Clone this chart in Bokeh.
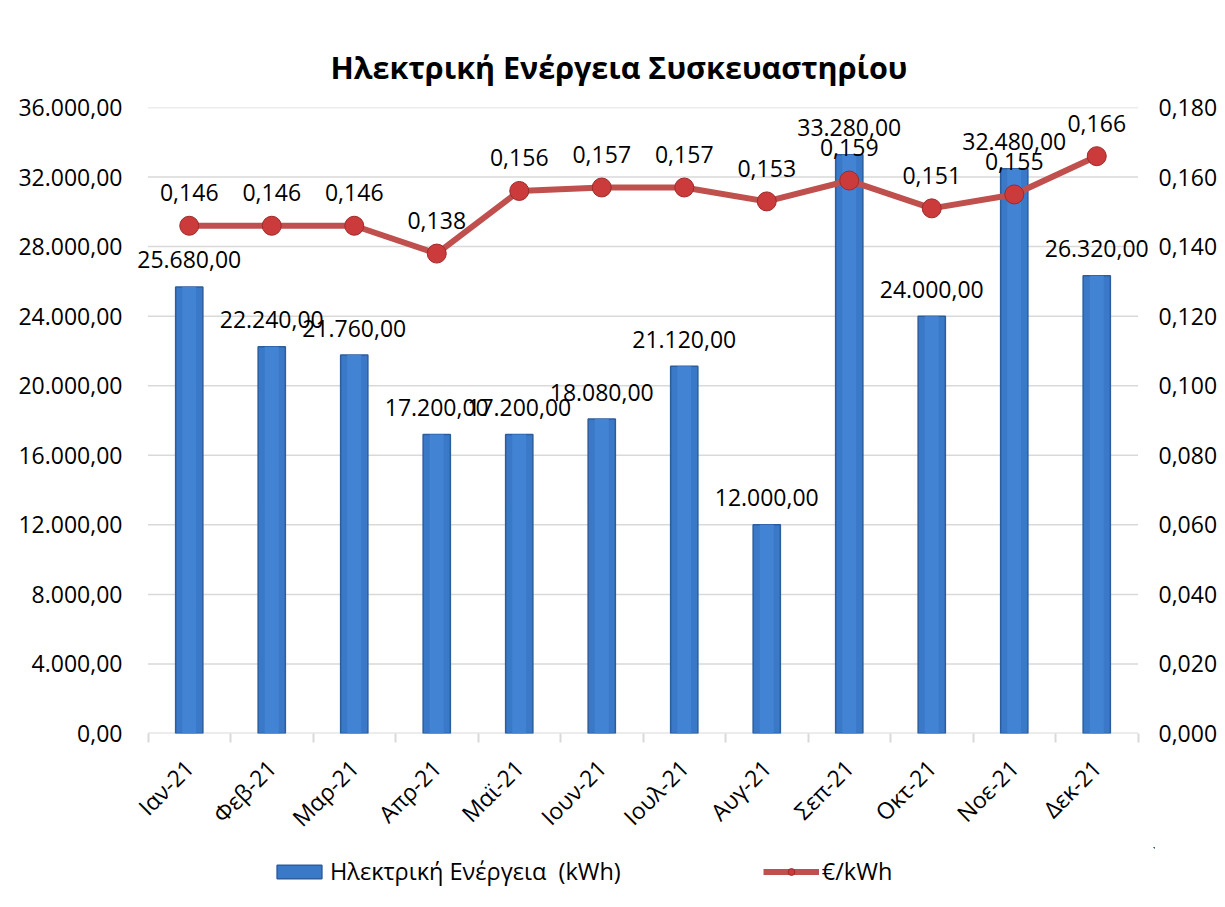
import numpy as np
from bokeh.plotting import figure
from bokeh.layouts import column
from bokeh.models import (Range1d, LinearAxis, FixedTicker, ColumnDataSource,
                          Legend, LegendItem)
from bokeh.core.properties import value
from bokeh.embed import file_html
from bokeh.resources import INLINE

# ---- data ----
months = ["Ιαν-21", "Φεβ-21", "Μαρ-21", "Απρ-21", "Μαϊ-21", "Ιουν-21",
          "Ιουλ-21", "Αυγ-21", "Σεπ-21", "Οκτ-21", "Νοε-21", "Δεκ-21"]
energy_kwh = [25680, 22240, 21760, 17200, 17200, 18080,
              21120, 12000, 33280, 24000, 32480, 26320]
price_eur_kwh = [0.146, 0.146, 0.146, 0.138, 0.156, 0.157,
                 0.157, 0.153, 0.159, 0.151, 0.155, 0.166]
energy_ticks = [0, 4000, 8000, 12000, 16000, 20000, 24000, 28000, 32000, 36000]
energy_tick_labels = ["0,00", "4.000,00", "8.000,00", "12.000,00", "16.000,00",
                      "20.000,00", "24.000,00", "28.000,00", "32.000,00", "36.000,00"]
price_ticks = [0.0, 0.02, 0.04, 0.06, 0.08, 0.10, 0.12, 0.14, 0.16, 0.18]
price_tick_labels = ["0,000", "0,020", "0,040", "0,060", "0,080",
                     "0,100", "0,120", "0,140", "0,160", "0,180"]
title_text = "Ηλεκτρική Ενέργεια Συσκευαστηρίου"
bar_legend = "Ηλεκτρική Ενέργεια  (kWh)"
line_legend = "€/kWh"


def fmt_energy(v):
    s = f"{v:,.2f}"  # 25,680.00
    return s.replace(",", "X").replace(".", ",").replace("X", ".")


def fmt_price(v):
    return f"{v:.3f}".replace(".", ",")


FONT = "Open Sans"
FS = "23px"
GRID = "#d9d9d9"
BAR_FILL, BAR_LINE, BAR_INNER = "#3a78c8", "#2c5d9c", "#4383d4"
LINE_C, MK_FILL, MK_LINE = "#c0504d", "#cc3b3b", "#9e2a2a"

n = len(months)
xs = [i + 0.5 for i in range(n)]
src = ColumnDataSource(dict(
    x=xs, energy=energy_kwh, price=price_eur_kwh,
    elab=[fmt_energy(v) for v in energy_kwh],
    plab=[fmt_price(v) for v in price_eur_kwh],
))
grid_src = ColumnDataSource(dict(y=energy_ticks[1:],
                                 x0=[0] * (len(energy_ticks) - 1),
                                 x1=[n] * (len(energy_ticks) - 1)))

pad = 0.2
p = figure(frame_width=1023, frame_height=626, output_backend="svg",
           toolbar_location=None,
           x_range=Range1d(-pad, n + pad), y_range=Range1d(0, 36000),
           min_border_left=131, min_border_right=70, min_border_top=107,
           min_border_bottom=112)
p.extra_y_ranges = {"price": Range1d(0, 0.18)}

p.title.text = title_text
p.title.text_font = FONT
p.title.text_font_style = "bold"
p.title.text_font_size = "30.5px"
p.title.text_color = "#000000"
p.title.align = "left"
p.title.offset = 199
p.title.standoff = 40

p.outline_line_color = None
p.background_fill_color = "white"
p.border_fill_color = "white"

# grid (drawn only over the category span)
p.xgrid.grid_line_color = None
p.ygrid.grid_line_color = None
p.segment(x0="x0", x1="x1", y0="y", y1="y", source=grid_src,
          line_color=GRID, line_width=1.5)

# x axis
xax = p.xaxis[0]
xax.ticker = FixedTicker(ticks=xs, minor_ticks=list(range(n + 1)))
xax.major_label_overrides = {x: m for x, m in zip(xs, months)}
xax.major_tick_line_color = None
xax.major_tick_out = 0
xax.major_tick_in = 0
xax.minor_tick_line_color = GRID
xax.minor_tick_line_width = 2
xax.minor_tick_out = 9
xax.minor_tick_in = 0
xax.axis_line_color = None
xax.major_label_orientation = np.pi / 4
xax.major_label_text_font = FONT
xax.major_label_text_font_size = FS
xax.major_label_text_color = "#000000"
xax.major_label_standoff = 21
p.segment(x0=[0], x1=[n], y0=[0], y1=[0], line_color=GRID, line_width=2)


def style_y(ax, ticks, labels, standoff):
    ax.ticker = FixedTicker(ticks=ticks)
    ax.major_label_overrides = {t: l for t, l in zip(ticks, labels)}
    ax.axis_line_color = None
    ax.major_tick_line_color = None
    ax.minor_tick_line_color = None
    ax.major_tick_out = 0
    ax.major_tick_in = 0
    ax.minor_tick_out = 0
    ax.minor_tick_in = 0
    ax.major_label_text_font = FONT
    ax.major_label_text_font_size = FS
    ax.major_label_text_color = "#000000"
    ax.major_label_standoff = standoff


style_y(p.yaxis[0], energy_ticks, energy_tick_labels, 9)
rax = LinearAxis(y_range_name="price")
style_y(rax, price_ticks, price_tick_labels, 4)
p.add_layout(rax, "right")

# bars
p.vbar(x="x", top="energy", width=0.33, source=src,
       fill_color=BAR_FILL, line_color=BAR_LINE, line_width=1.5)
p.vbar(x="x", top="energy", width=0.17, source=src,
       fill_color=BAR_INNER, line_color=None)

# bar labels
p.text(x="x", y="energy", text="elab", source=src, text_align="center",
       text_baseline="alphabetic", y_offset=-27, text_font=value(FONT),
       text_font_size=FS, text_color="#000000")

# price line
p.line(x="x", y="price", source=src, y_range_name="price",
       line_color=LINE_C, line_width=6)
p.scatter(x="x", y="price", source=src, y_range_name="price", size=19,
          fill_color=MK_FILL, line_color=MK_LINE, line_width=1)

p.text(x="x", y="price", text="plab", source=src, y_range_name="price",
       text_align="center", text_baseline="alphabetic", y_offset=-33,
       text_font=value(FONT), text_font_size=FS, text_color="#000000")

# ---- legend strip (separate figure beneath the chart) ----
# the same series are drawn here, outside this strip's visible ranges,
# only to provide the legend glyphs
lg = figure(width=1224, height=50, output_backend="svg", toolbar_location=None,
            x_range=Range1d(-2, -1), y_range=Range1d(-2, -1),
            x_axis_location=None, y_axis_location=None,
            min_border_left=0, min_border_right=0, min_border_top=0,
            min_border_bottom=0)
lg.grid.grid_line_color = None
lg.outline_line_color = None
lb = lg.vbar(x="x", top="energy", width=0.33, source=src,
             fill_color=BAR_FILL, line_color=BAR_LINE, line_width=1.5)
ll = lg.line(x="x", y="price", source=src, line_color=LINE_C, line_width=6)
lm = lg.scatter(x="x", y="price", source=src, size=19,
                fill_color=MK_FILL, line_color=MK_LINE, line_width=1)
legend = Legend(items=[LegendItem(label=bar_legend, renderers=[lb]),
                       LegendItem(label=line_legend, renderers=[ll, lm])],
                orientation="horizontal", location=(140, 10),
                glyph_width=56, glyph_height=17, spacing=142,
                label_text_font=FONT, label_text_font_size="23.5px",
                label_text_color="#000000", label_standoff=3,
                border_line_color=None, background_fill_alpha=0,
                padding=4, margin=0)
lg.add_layout(legend, "center")

layout = column(p, lg, spacing=0)
open("out.html", "w").write(file_html(layout, INLINE))
